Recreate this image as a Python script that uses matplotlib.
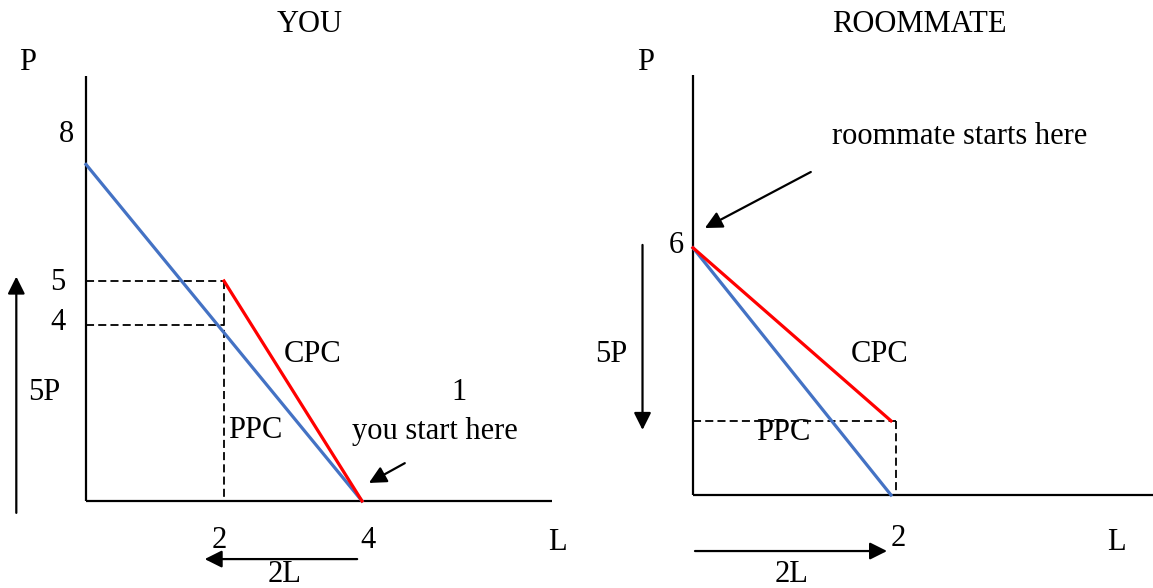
import matplotlib
matplotlib.use('Agg')
import matplotlib.pyplot as plt

# ---------------- data ----------------
# YOU panel
you_ppc_L = [0.0, 4.0]
you_ppc_P = [7.65, 0.0]
you_cpc_L = [2.0, 4.0]
you_cpc_P = [5.0, 0.0]
you_guide_P = [5.0, 4.0]
you_guide_L = 2.0
you_P_ticks = [8, 5, 4]
you_L_ticks = [2, 4]
you_axis_max = (6.75, 9.66)

# ROOMMATE panel
rm_ppc_L = [0.0, 2.0]
rm_ppc_P = [6.0, 0.0]
rm_cpc_L = [0.0, 2.0]
rm_cpc_P = [6.0, 1.8]
rm_guide_P = 1.8
rm_guide_L = 2.05
rm_P_ticks = [6]
rm_L_ticks = [2]
rm_axis_max = (4.7, 10.2)

BLUE = '#4472C4'
RED = '#FF0000'

W, H = 1153, 588
plt.rcParams['font.family'] = ['Liberation Serif', 'DejaVu Serif']
plt.rcParams['lines.scale_dashes'] = False
FS = 22

fig = plt.figure(figsize=(W / 100, H / 100), dpi=100)


def make_axes(px_left, px_right, x0px, xscale, y0px, yscale):
    ax = fig.add_axes([px_left / W, 0, (px_right - px_left) / W, 1])
    ax.set_xlim((px_left - x0px) / xscale, (px_right - x0px) / xscale)
    ax.set_ylim((y0px - H) / yscale, y0px / yscale)
    ax.axis('off')
    return ax


def ftext(xp, yp, s, **kw):
    kw.setdefault('ha', 'center')
    kw.setdefault('va', 'center')
    fig.text(xp / W, 1 - yp / H, s, fontsize=FS, **kw)


def arrow(ax, start, end):
    ax.annotate('', xy=end, xytext=start,
                arrowprops=dict(arrowstyle='-|>', mutation_scale=26, lw=1.6,
                                color='black', shrinkA=0, shrinkB=0),
                annotation_clip=False)


DASH = dict(color='black', lw=1.3, dashes=(5.8, 3.0))

# ---------------- YOU ----------------
axl = make_axes(0, 576, 86, 69.0, 501, 44.0)
axl.plot([0, 0], [0, you_axis_max[1]], color='black', lw=1.6, solid_capstyle='butt')
axl.plot([0, you_axis_max[0]], [0, 0], color='black', lw=1.6, solid_capstyle='butt')
for p in you_guide_P:
    axl.plot([0, you_guide_L], [p, p], **DASH)
axl.plot([you_guide_L, you_guide_L], [max(you_guide_P), 0], **DASH)
axl.plot(you_ppc_L, you_ppc_P, color=BLUE, lw=2.3)
axl.plot(you_cpc_L, you_cpc_P, color=RED, lw=2.3)

p_offsets = {8: 14, 5: -2, 4: 3}
for p in you_P_ticks:
    y = axl.transData.transform((0, p))[1]
    xpx = 67 if p == 8 else 58
    ftext(xpx, H - y - p_offsets[p], str(p))
for l in you_L_ticks:
    x = axl.transData.transform((l, 0))[0]
    ftext(x + (-5 if l == 2 else 6), 540, str(l))

ftext(310, 25, 'YOU')
ftext(28, 62, 'P')
ftext(557, 542, 'L')
ftext(44, 392, '5P')
ftext(313, 354, 'CPC')
ftext(255, 430, 'PPC')
ftext(459, 392, '1')
ftext(435, 432, 'you start here')
ftext(285, 574, '2L')

arrow(axl, (-1.01, -0.27), (-1.01, 5.1))
arrow(axl, (3.93, -1.32), (1.72, -1.32))
arrow(axl, (4.62, 0.86), (4.1, 0.41))

# ---------------- ROOMMATE ----------------
axr = make_axes(576, 1153, 693, 99.0, 495, 41.2)
axr.plot([0, 0], [0, rm_axis_max[1]], color='black', lw=1.6, solid_capstyle='butt')
axr.plot([0, rm_axis_max[0]], [0, 0], color='black', lw=1.6, solid_capstyle='butt')
axr.plot([0, rm_guide_L], [rm_guide_P, rm_guide_P], **DASH)
axr.plot([rm_guide_L, rm_guide_L], [rm_guide_P, 0], **DASH)
axr.plot(rm_ppc_L, rm_ppc_P, color=BLUE, lw=2.3)
axr.plot(rm_cpc_L, rm_cpc_P, color=RED, lw=2.3)

for p in rm_P_ticks:
    y = axr.transData.transform((0, p))[1]
    ftext(676, H - y - 2, str(p))
for l in rm_L_ticks:
    x = axr.transData.transform((l, 0))[0]
    ftext(x + 7, 538, str(l))

ftext(919, 25, 'ROOMMATE')
ftext(646, 62, 'P')
ftext(1116, 542, 'L')
ftext(960, 137, 'roommate starts here')
ftext(611, 355, '5P')
ftext(880, 355, 'CPC')
ftext(783, 432, 'PPC')
ftext(792, 574, '2L')

arrow(axr, (-0.51, 6.07), (-0.51, 1.58))
arrow(axr, (0.02, -1.36), (1.96, -1.36))
arrow(axr, (1.19, 7.84), (0.12, 6.48))

fig.savefig('out.png', dpi=100)
